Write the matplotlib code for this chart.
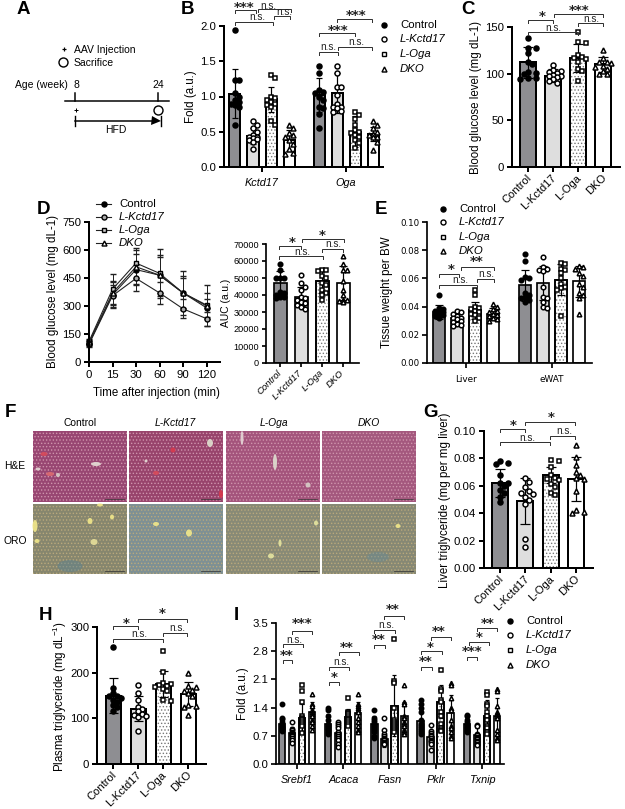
import matplotlib
matplotlib.use("Agg")
import matplotlib.pyplot as plt
from matplotlib.patches import Rectangle, Ellipse
from matplotlib.transforms import ScaledTranslation

plt.rcParams['font.family'] = ['Liberation Sans', 'DejaVu Sans']
plt.rcParams['mathtext.fontset'] = 'custom'
plt.rcParams['mathtext.rm'] = 'Liberation Sans'
plt.rcParams['mathtext.it'] = 'Liberation Sans:italic'
plt.rcParams['hatch.linewidth'] = 0.6

W, H = 625, 809
PX = 72 / 100  # one pixel in points

groups_names = ["Control", "L-Kctd17", "L-Oga", "DKO"]

# panel B
b_genes = ["Kctd17", "Oga"]
b_means = [[1.04, 0.44, 0.96, 0.38], [1.02, 1.05, 0.50, 0.47]]
b_sds = [[0.35, 0.12, 0.18, 0.15], [0.24, 0.28, 0.22, 0.10]]
b_points = [
    [[1.95, 1.23, 1.23, 1.05, 1.0, 0.95, 0.92, 0.9, 0.88, 0.85, 0.6],
     [0.65, 0.6, 0.55, 0.5, 0.45, 0.43, 0.42, 0.41, 0.4, 0.38, 0.35, 0.25],
     [1.31, 1.26, 1.0, 0.98, 0.95, 0.92, 0.9, 0.88, 0.85, 0.65, 0.6],
     [0.6, 0.55, 0.48, 0.45, 0.42, 0.38, 0.33, 0.25, 0.2, 0.18]],
    [[1.43, 1.33, 1.09, 1.07, 1.05, 1.0, 0.95, 0.85, 0.83, 0.75, 0.55],
     [1.43, 1.33, 1.13, 1.13, 1.02, 0.9, 0.85, 0.83, 0.8, 0.85, 0.78],
     [0.78, 0.74, 0.68, 0.6, 0.52, 0.5, 0.48, 0.45, 0.42, 0.38, 0.34, 0.27],
     [0.65, 0.59, 0.55, 0.5, 0.47, 0.45, 0.43, 0.42, 0.36, 0.24]],
]

# panel C
c_means = [[112, 98, 117, 110]]
c_sds = [[17, 7, 15, 8]]
c_points = [[
    [138, 128, 127, 122, 112, 110, 102, 101, 100, 95, 94, 95],
    [109, 104, 103, 102, 101, 99, 98, 97, 96, 94, 92, 90],
    [145, 134, 133, 120, 118, 117, 116, 112, 105, 103, 92],
    [125, 117, 113, 112, 111, 108, 107, 105, 103, 100, 100],
]]

# panel D line chart
d_times = ["0", "15", "30", "60", "90", "120"]
d_control = [100, 360, 495, 465, 370, 290]
d_kctd = [95, 355, 448, 370, 285, 232]
d_oga = [110, 390, 530, 475, 370, 305]
d_dko = [105, 370, 510, 465, 370, 300]
d_control_sd = [15, 70, 85, 95, 80, 50]
d_kctd_sd = [15, 60, 70, 60, 50, 38]
d_oga_sd = [15, 80, 80, 130, 120, 110]
d_dko_sd = [15, 65, 90, 110, 90, 70]

# panel D AUC
auc_means = [[47000, 39000, 48000, 47000]]
auc_sds = [[7000, 5500, 7000, 10000]]
auc_points = [[
    [58000, 55000, 50000, 50000, 50000, 42000, 41000, 40000, 39000, 39000, 38500],
    [52000, 47000, 45000, 43000, 39000, 38000, 37000, 36000, 35500, 34000, 33000, 32000],
    [54500, 54500, 54000, 51000, 50000, 47000, 46000, 43000, 41000, 40000, 37000],
    [63000, 58000, 55000, 54500, 48000, 43000, 40000, 37000, 36000, 36500, 37000],
]]

# panel E
e_tissues = ["Liver", "eWAT"]
e_means = [[0.036, 0.032, 0.0375, 0.035], [0.055, 0.0565, 0.059, 0.058]]
e_sds = [[0.005, 0.003, 0.006, 0.004], [0.011, 0.012, 0.011, 0.011]]
e_points = [
    [[0.048, 0.039, 0.038, 0.037, 0.036, 0.036, 0.035, 0.034, 0.034, 0.033, 0.032],
     [0.037, 0.036, 0.035, 0.033, 0.032, 0.032, 0.031, 0.030, 0.029, 0.028, 0.027, 0.026],
     [0.052, 0.048, 0.04, 0.039, 0.038, 0.037, 0.036, 0.035, 0.034, 0.032, 0.030],
     [0.042, 0.04, 0.038, 0.037, 0.036, 0.035, 0.034, 0.033, 0.032, 0.031, 0.03]],
    [[0.077, 0.072, 0.061, 0.060, 0.059, 0.050, 0.048, 0.047, 0.046, 0.045, 0.043],
     [0.075, 0.068, 0.067, 0.066, 0.065, 0.054, 0.047, 0.046, 0.043, 0.040, 0.039],
     [0.071, 0.070, 0.067, 0.066, 0.064, 0.060, 0.056, 0.054, 0.053, 0.052, 0.033],
     [0.069, 0.068, 0.067, 0.064, 0.062, 0.056, 0.054, 0.050, 0.048, 0.046, 0.035]],
]

# panel G
g_means = [[0.062, 0.049, 0.068, 0.065]]
g_sds = [[0.010, 0.017, 0.006, 0.016]]
g_points = [[
    [0.078, 0.077, 0.076, 0.068, 0.062, 0.062, 0.060, 0.057, 0.055, 0.052, 0.048],
    [0.066, 0.063, 0.059, 0.056, 0.055, 0.054, 0.052, 0.050, 0.047, 0.021, 0.015],
    [0.079, 0.078, 0.074, 0.068, 0.066, 0.065, 0.064, 0.061, 0.059, 0.055, 0.053],
    [0.090, 0.081, 0.075, 0.070, 0.068, 0.066, 0.065, 0.056, 0.042, 0.041, 0.040],
]]

# panel H
h_means = [[150, 121, 175, 153]]
h_sds = [[38, 27, 28, 27]]
h_points = [[
    [256, 167, 155, 150, 148, 145, 140, 135, 130, 125, 115],
    [172, 155, 140, 125, 120, 115, 110, 108, 105, 102, 73],
    [248, 202, 178, 175, 172, 170, 168, 165, 160, 140, 138],
    [200, 170, 168, 163, 160, 155, 150, 130, 128, 125, 108],
]]

# panel I
i_genes = ["Srebf1", "Acaca", "Fasn", "Pklr", "Txnip"]
i_means = [[1.0, 0.77, 1.15, 1.3], [1.0, 0.77, 1.16, 1.27], [1.0, 0.63, 1.45, 1.2],
           [1.07, 0.67, 1.55, 1.27], [1.0, 0.72, 1.2, 1.18]]
i_sds = [[0.17, 0.16, 0.35, 0.25], [0.23, 0.2, 0.2, 0.27], [0.2, 0.2, 0.75, 0.35],
         [0.27, 0.17, 0.4, 0.45], [0.13, 0.18, 0.38, 0.45]]
i_points = [
    [[1.48, 1.15, 1.12, 1.05, 1.0, 0.95, 0.92, 0.9, 0.88, 0.85, 0.82],
     [1.05, 0.88, 0.85, 0.8, 0.78, 0.75, 0.72, 0.7, 0.65, 0.6, 0.52],
     [1.97, 1.8, 1.55, 1.2, 1.15, 1.12, 1.1, 1.05, 1.0, 0.95, 0.78],
     [1.73, 1.5, 1.45, 1.35, 1.3, 1.25, 1.2, 1.1, 1.05, 0.95, 0.85]],
    [[1.4, 1.35, 1.2, 1.1, 1.0, 0.95, 0.92, 0.88, 0.85, 0.8, 0.75],
     [1.05, 1.0, 0.95, 0.9, 0.8, 0.75, 0.7, 0.65, 0.6, 0.5, 0.42],
     [1.65, 1.3, 1.27, 1.25, 1.2, 1.15, 1.12, 1.1, 1.05, 1.0, 0.95],
     [1.73, 1.5, 1.45, 1.4, 1.35, 1.3, 1.15, 1.05, 0.95, 0.85, 0.8]],
    [[1.35, 1.15, 1.1, 1.05, 1.0, 0.95, 0.9, 0.85, 0.8, 0.7, 0.65],
     [1.13, 0.85, 0.75, 0.7, 0.65, 0.62, 0.6, 0.55, 0.52, 0.5, 0.5],
     [3.1, 2.05, 2.0, 1.4, 1.1, 1.05, 1.0, 0.95, 0.9, 0.85, 0.8],
     [1.95, 1.55, 1.5, 1.2, 1.15, 1.05, 1.0, 0.95, 0.85, 0.8, 0.75]],
    [[1.58, 1.5, 1.4, 1.3, 1.1, 1.0, 0.95, 0.9, 0.85, 0.8, 0.75],
     [0.98, 0.82, 0.78, 0.72, 0.7, 0.65, 0.6, 0.58, 0.55, 0.5, 0.35],
     [2.33, 1.85, 1.8, 1.6, 1.55, 1.3, 1.2, 1.0, 0.9, 0.85, 0.82],
     [2.0, 1.95, 1.65, 1.4, 1.35, 1.1, 0.95, 0.9, 0.8, 0.7, 0.65]],
    [[1.22, 1.18, 1.1, 1.05, 1.0, 0.97, 0.92, 0.9, 0.85, 0.82, 0.8],
     [0.98, 0.95, 0.75, 0.72, 0.68, 0.65, 0.62, 0.58, 0.55, 0.5, 0.48],
     [1.78, 1.72, 1.5, 1.45, 1.3, 1.2, 1.1, 0.95, 0.9, 0.8, 0.75],
     [1.87, 1.8, 1.45, 1.3, 1.25, 1.2, 1.15, 0.85, 0.75, 0.65, 0.6]],
]

MARKERS = ['o', 'o', 's', '^']
BAR_FACE = ['#8e8e92', '#dedede', 'white', 'white']
TICK = 8.2
LABEL = 8.3
LEG = 8.2


def px_axes(fig, left, right, top, bottom):
    return fig.add_axes([left / W, 1 - bottom / H, (right - left) / W, (bottom - top) / H])


def swarm(values, scale, dot, limit):
    # x offset (pixels) for each value so the dots sit side by side inside the bar
    placed = []
    vals = sorted(values, reverse=True)
    for v in vals:
        y = v * scale
        best, best_gap = 0, -1
        step = 0
        while True:
            off = ((step + 1) // 2) * dot * 0.8 * (1 if step % 2 else -1)
            if abs(off) > limit:
                break
            gap = min([(off - po) ** 2 + (y - py) ** 2 for po, py in placed] or [1e9])
            if gap >= (dot * 0.85) ** 2:
                best = off
                break
            if gap > best_gap:
                best, best_gap = off, gap
            step += 1
        placed.append((best, y))
    return [p[0] for p in placed], vals


def style_axis(ax, lw=2.0):
    for s in ['top', 'right']:
        ax.spines[s].set_visible(False)
    for s in ['left', 'bottom']:
        ax.spines[s].set_linewidth(lw * PX)
    ax.patch.set_alpha(0)


def bar_panel(fig, box, first, spacing, step, width, ylim, yticks, means, sds, points,
              ms=5.0, lw=2.0, fmt="%g", ytick_size=TICK, cap=None, limit=None):
    left, right, top, bottom = box
    ax = px_axes(fig, left, right, top, bottom)
    ax.set_xlim(left, right)
    ax.set_ylim(*ylim)
    scale = (bottom - top) / (ylim[1] - ylim[0])
    cap = cap if cap is not None else width * 0.3
    limit = limit if limit is not None else width * 0.55
    centers = []
    for g in range(len(means)):
        centers.append(first + g * step + 1.5 * spacing)
        for i in range(4):
            x = first + g * step + i * spacing
            ax.bar(x, means[g][i], width=width, color=BAR_FACE[i], edgecolor='black',
                   linewidth=lw * PX, zorder=2)
            if i == 2:
                ax.bar(x, means[g][i], width=width, color='none', edgecolor='#777777',
                       hatch='.....', linewidth=0, zorder=2.1)
                ax.bar(x, means[g][i], width=width, color='none', edgecolor='black',
                       linewidth=lw * PX, zorder=2.2)
            ax.errorbar(x, means[g][i], yerr=sds[g][i], color='black', capsize=cap * PX,
                        elinewidth=1.2 * PX, capthick=1.2 * PX, zorder=3)
            offs, vals = swarm(points[g][i], scale, ms, limit)
            face = 'black' if i == 0 else 'white'
            ax.plot([x + o for o in offs], vals, ls='none', marker=MARKERS[i], ms=ms * PX,
                    mfc=face, mec='black', mew=1.5 * PX, zorder=4, clip_on=False)
    ax.set_yticks(yticks)
    ax.set_yticklabels([fmt % t for t in yticks], fontsize=ytick_size)
    style_axis(ax, lw)
    ax.tick_params(axis='both', width=lw * PX, length=5 * PX, pad=2)
    return ax, centers


def rotated_labels(ax, first, spacing, size=8.0, italic=False):
    ax.set_xticks([first + i * spacing for i in range(4)])
    ax.set_xticklabels(groups_names, rotation=45, ha='right', va='center', rotation_mode='anchor',
                       fontsize=size, style='italic' if italic else 'normal')
    ax.tick_params(axis='x', pad=3)
    shift = ScaledTranslation(2 / 100, 0, ax.figure.dpi_scale_trans)
    for lab in ax.get_xticklabels():
        lab.set_transform(lab.get_transform() + shift)


def legend(ov, mx, tx, ys, size=LEG, ms=5.0):
    for i in range(4):
        face = 'black' if i == 0 else 'white'
        ov.plot([mx], [ys[i]], ls='none', marker=MARKERS[i], ms=ms * PX, mfc=face, mec='black',
                mew=1.4 * PX)
        ov.text(tx, ys[i], groups_names[i], fontsize=size, va='center', ha='left',
                style='normal' if i == 0 else 'italic')


def bracket(ov, x0, x1, y, label, tx, ty, drop=3):
    col = '#333333'
    ov.plot([x0, x0, x1, x1], [y + drop, y, y, y + drop], color=col, lw=1.0 * PX, solid_joinstyle='miter')
    if label == "n.s.":
        ov.text(tx, ty, label, fontsize=7.2, ha='center', va='center', color='#222222')
    else:
        ov.text(tx, ty + 2, label, fontsize=9.5, ha='center', va='center', color='#222222',
                fontweight='bold', family='DejaVu Sans')


fig = plt.figure(figsize=(6.25, 8.09), dpi=100)

# overlay in pixel coordinates for annotations
ov = fig.add_axes([0, 0, 1, 1], zorder=10)
ov.set_xlim(0, W)
ov.set_ylim(H, 0)
ov.axis('off')

for letter, lx, ly in [("A", 23, 9), ("B", 188, 9), ("C", 468, 9), ("D", 43, 209), ("E", 381, 209),
                       ("F", 10, 412), ("G", 431, 412), ("H", 46, 616), ("I", 236, 616)]:
    ov.text(lx, ly, letter, fontsize=13.5, fontweight='bold', ha='center', va='center')

# panel A
ov.plot([64], [49], marker='+', ms=5 * PX, mew=1.2 * PX, color='black')
ov.text(74, 49.5, "AAV Injection", fontsize=7.5, va='center')
ov.plot([63], [62], marker='o', ms=9 * PX, mfc='white', mec='black', mew=1.4 * PX)
ov.text(74, 62.5, "Sacrifice", fontsize=7.5, va='center')
ov.text(15, 85, "Age (week)", fontsize=7.5, va='center')
ov.text(76, 85, "8", fontsize=7.5, va='center', ha='center')
ov.text(158, 85, "24", fontsize=7.5, va='center', ha='center')
ov.plot([65, 169], [101, 101], color='black', lw=1.5 * PX)
ov.plot([75, 75], [93, 101], color='black', lw=1.5 * PX)
ov.plot([157.5, 157.5], [93, 101], color='black', lw=1.5 * PX)
ov.plot([75.5], [110], marker='+', ms=4.5 * PX, mew=1 * PX, color='black')
ov.plot([157.5], [110], marker='o', ms=9 * PX, mfc='white', mec='black', mew=1.4 * PX)
ov.plot([75, 75], [116, 126], color='black', lw=1.4 * PX)
ov.plot([161, 161], [116, 126], color='black', lw=1.4 * PX)
ov.plot([75, 155], [121, 121], color='black', lw=1.5 * PX)
ov.plot([156], [121], marker='>', ms=9 * PX, color='black', mew=0)
ov.text(116, 129.5, "HFD", fontsize=7.5, va='center', ha='center')

# panel B
ax, cs = bar_panel(fig, (224, 383, 26, 167), 235, 18, 84, 11, (0, 2.0), [0, 0.5, 1.0, 1.5, 2.0],
                   b_means, b_sds, b_points, fmt="%.1f")
ax.set_xticks(cs)
ax.set_xticklabels(b_genes, style='italic', fontsize=7.8)
ax.tick_params(axis='x', pad=4)
for b in [(235, 256, 10, "***", 244, 5), (258, 291, 9, "n.s.", 268, 5.5),
          (235, 273, 21.5, "n.s.", 257, 17), (274, 290, 16, "n.s.", 284, 12),
          (319, 355, 33, "***", 338, 28), (337, 372, 19, "***", 356, 13),
          (319, 338, 52, "n.s.", 328, 47), (338, 372, 47, "n.s.", 356, 42)]:
    bracket(ov, *b)
legend(ov, 384, 400, [25, 39, 54, 69])
ov.text(191, 97, "Fold (a.u.)", fontsize=LABEL, rotation=90, ha='center', va='center')

# panel C
ax, cs = bar_panel(fig, (512, 620, 27, 167), 528, 25, 0, 16, (0, 150), [0, 50, 100, 150],
                   c_means, c_sds, c_points)
rotated_labels(ax, 528, 25)
for b in [(528, 553, 20, "*", 542, 14), (554, 603, 14, "***", 579, 8),
          (528, 578, 32, "n.s.", 553, 28), (578, 603, 23, "n.s.", 591, 19)]:
    bracket(ov, *b)
ov.text(476, 97, "Blood glucose level (mg dL-1)", fontsize=LABEL, rotation=90, ha='center', va='center')

# panel D lines
ax = px_axes(fig, 89, 220, 222, 362)
ax.set_xlim(0, 5.57)
ax.set_ylim(0, 750)
xs = list(range(len(d_times)))
series = [(d_control, d_control_sd, 'o', 'black'), (d_kctd, d_kctd_sd, 'o', '#aaaaaa'),
          (d_oga, d_oga_sd, 's', '#cccccc'), (d_dko, d_dko_sd, '^', 'white')]
for vals, sds, mk, face in series:
    ax.errorbar(xs, vals, yerr=sds, color='#222222', lw=1.1 * PX, elinewidth=1.0 * PX, capsize=3.2 * PX,
                capthick=1.0 * PX, marker=mk, ms=5 * PX, mfc=face, mec='black', mew=1.4 * PX, clip_on=False)
ax.set_xticks(xs)
ax.set_xticklabels(d_times, fontsize=TICK)
ax.set_yticks([0, 150, 300, 450, 600, 750])
ax.set_yticklabels(['0', '150', '300', '450', '600', '750'], fontsize=TICK)
style_axis(ax)
ax.tick_params(axis='both', width=2.0 * PX, length=5 * PX, pad=2)
for i, (y, mk, face) in enumerate(zip([204, 217, 230, 243], ['o', 'o', 's', '^'],
                                      ['black', '#aaaaaa', '#cccccc', 'white'])):
    ov.plot([96, 111], [y, y], color='#222222', lw=1.1 * PX)
    ov.plot([103.5], [y], marker=mk, ms=5 * PX, mfc=face, mec='black', mew=1.4 * PX)
    ov.text(119, y, groups_names[i], fontsize=LEG, va='center', style='normal' if i == 0 else 'italic')
ov.text(53, 292, "Blood glucose level (mg dL-1)", fontsize=LABEL, rotation=90, ha='center', va='center')
ov.text(156, 393, "Time after injection (min)", fontsize=LABEL, ha='center', va='center')

# panel D AUC
ax, cs = bar_panel(fig, (266, 359, 244, 363), 280, 21, 0, 13, (0, 70000),
                   [0, 10000, 20000, 30000, 40000, 50000, 60000, 70000],
                   auc_means, auc_sds, auc_points, ytick_size=6.6, ms=4.6, lw=1.7)
rotated_labels(ax, 280, 21, 6.8, italic=True)
ax.tick_params(axis='both', length=4 * PX)
for b in [(279, 301, 246, "*", 292, 240), (302, 344, 239, "*", 322, 233),
          (279, 323, 256, "n.s.", 302, 252), (322, 343, 249, "n.s.", 333, 244)]:
    bracket(ov, *b)
ov.text(226, 303, "AUC (a.u.)", fontsize=7.4, rotation=90, ha='center', va='center')

# panel E
ax, cs = bar_panel(fig, (427, 592, 222, 363), 439, 18, 86, 12, (0, 0.10),
                   [0, 0.02, 0.04, 0.06, 0.08, 0.10], e_means, e_sds, e_points, fmt="%.2f",
                   ytick_size=6.2, ms=4.6, lw=1.7)
for lab in ax.get_yticklabels():
    lab.set_family('DejaVu Sans')
ax.set_xticks(cs)
ax.set_xticklabels(e_tissues, fontsize=6.4, family='DejaVu Sans')
ax.tick_params(axis='x', pad=5)
for b in [(439, 459, 274, "*", 451, 267), (461, 494, 267, "**", 477, 260),
          (439, 477, 285, "n.s.", 460, 280), (477, 494, 279, "n.s.", 486, 274)]:
    bracket(ov, *b)
legend(ov, 443, 459, [209, 222, 237, 251])
ov.text(387, 292, "Tissue weight per BW", fontsize=LABEL, rotation=90, ha='center', va='center')

# panel F micrographs
cols_x = [(33, 127), (129, 223), (226, 320), (322, 416)]
col_mid = [80, 175, 274, 369]
rows = [(431, 502, ['#984672', '#98446c', '#a4547c', '#a4587e'], '#cf94ac', 'H&E', 466),
        (504, 574, ['#86866e', '#7e9094', '#888a76', '#868874'], '#baa97c', 'ORO', 541)]
for (y0, y1, bases, grain, name, ly) in rows:
    ov.text(15, ly, name, fontsize=7.4, ha='center', va='center')
    for (x0, x1), base in zip(cols_x, bases):
        ov.add_patch(Rectangle((x0, y0), x1 - x0, y1 - y0, facecolor=base, edgecolor=grain,
                               hatch='.....', linewidth=0))
        ov.plot([x1 - 22, x1 - 3], [y1 - 3, y1 - 3], color='#333333', lw=0.7 * PX)
for i in range(4):
    ov.text(col_mid[i], 423, groups_names[i], fontsize=7.4, ha='center', va='center',
            style='normal' if i == 0 else 'italic')
for ex, ey, ew, eh, c, a in [(70, 566, 25, 12, '#4f7f98', 0.4), (378, 557, 22, 10, '#5a88a0', 0.35),
                             (44, 454, 7, 4, '#d84a5a', 0.9), (50, 474, 8, 4, '#dc6a70', 0.9),
                             (96, 464, 10, 4, '#e6e0d8', 0.9), (58, 475, 4, 4, '#d8d0c8', 0.9),
                             (38, 469, 5, 3, '#e6d8d8', 0.9), (173, 450, 5, 5, '#d8384c', 0.9),
                             (156, 473, 6, 4, '#d84a5a', 0.9), (210, 443, 6, 8, '#dfe0d0', 0.9),
                             (146, 461, 3, 3, '#e6e0d8', 0.9), (221, 494, 4, 8, '#d8384c', 0.9),
                             (275, 462, 4, 16, '#dfe0d0', 0.9), (242, 438, 3, 14, '#e6d8d8', 0.9),
                             (308, 485, 5, 5, '#d8d0c8', 0.9), (35, 526, 5, 12, '#f2e88a', 0.9),
                             (90, 521, 5, 6, '#f2e88a', 0.9), (112, 517, 4, 5, '#f2e88a', 0.9),
                             (37, 541, 5, 4, '#f2e88a', 0.9), (94, 542, 7, 6, '#e6df9a', 0.9),
                             (100, 505, 6, 3, '#f2e88a', 0.9), (156, 524, 6, 4, '#f2e88a', 0.9),
                             (189, 533, 6, 7, '#f2e88a', 0.9), (280, 543, 3, 7, '#e6e6a0', 0.9),
                             (271, 556, 6, 5, '#e6e6a0', 0.9), (316, 523, 4, 5, '#e6e6a0', 0.9),
                             (398, 526, 5, 4, '#f2e88a', 0.9)]:
    ov.add_patch(Ellipse((ex, ey), ew, eh, facecolor=c, edgecolor='none', alpha=a))

# panel G
ax, cs = bar_panel(fig, (484, 593, 431, 568), 500, 25.3, 0, 16, (0, 0.10), [0, 0.02, 0.04, 0.06, 0.08, 0.10],
                   g_means, g_sds, g_points, fmt="%.2f")
rotated_labels(ax, 500, 25.3)
for b in [(500, 525, 429, "*", 513, 423), (525, 575, 422, "*", 551, 415),
          (500, 550, 442, "n.s.", 527, 438), (550, 575, 436, "n.s.", 564, 431)]:
    bracket(ov, *b)
ov.text(445, 500, "Liver triglyceride (mg per mg liver)", fontsize=LABEL, rotation=90, ha='center', va='center')

# panel H
ax, cs = bar_panel(fig, (97, 206, 627, 764), 113, 25, 0, 15, (0, 300), [0, 100, 200, 300],
                   h_means, h_sds, h_points)
rotated_labels(ax, 113, 25)
for b in [(113, 138, 626, "*", 126, 621), (138, 187, 619, "*", 162, 612),
          (113, 163, 639, "n.s.", 139, 634), (163, 187, 633, "n.s.", 177, 628)]:
    bracket(ov, *b)
ov.text(60, 697, r"Plasma triglyceride (mg dL$^{-1}$)", fontsize=LABEL, rotation=90, ha='center', va='center')

# panel I
ax, cs = bar_panel(fig, (276, 504, 623, 764), 282, 10, 46.2, 6.5, (0, 3.5), [0, 0.7, 1.4, 2.1, 2.8, 3.5],
                   i_means, i_sds, i_points, fmt="%.1f", ms=4.4, lw=1.7, cap=2, limit=2.2)
ax.set_xticks(cs)
ax.set_xticklabels(i_genes, style='italic', fontsize=7.8)
ax.tick_params(axis='x', pad=4)
for b in [(283, 292, 660, "**", 287, 653), (283, 303, 644, "n.s.", 294, 640), (292, 312, 631, "***", 302, 622),
          (329, 339, 682, "*", 334, 675), (329, 349, 667, "n.s.", 341, 662), (339, 359, 652, "**", 347, 645),
          (374, 385, 645, "**", 379, 638), (374, 395, 630, "n.s.", 386, 625), (384, 404, 616, "**", 393, 608),
          (421, 432, 667, "**", 426, 660), (421, 442, 651, "*", 430, 645), (431, 451, 637, "**", 439, 630),
          (467, 477, 657, "***", 472, 650), (469, 489, 642, "*", 479, 636), (477, 497, 628, "**", 488, 622)]:
    bracket(ov, *b)
legend(ov, 510, 526, [621, 635, 650, 665])
ov.text(243, 694, "Fold (a.u.)", fontsize=LABEL, rotation=90, ha='center', va='center')

fig.savefig("out.png", dpi=100, facecolor='white')
